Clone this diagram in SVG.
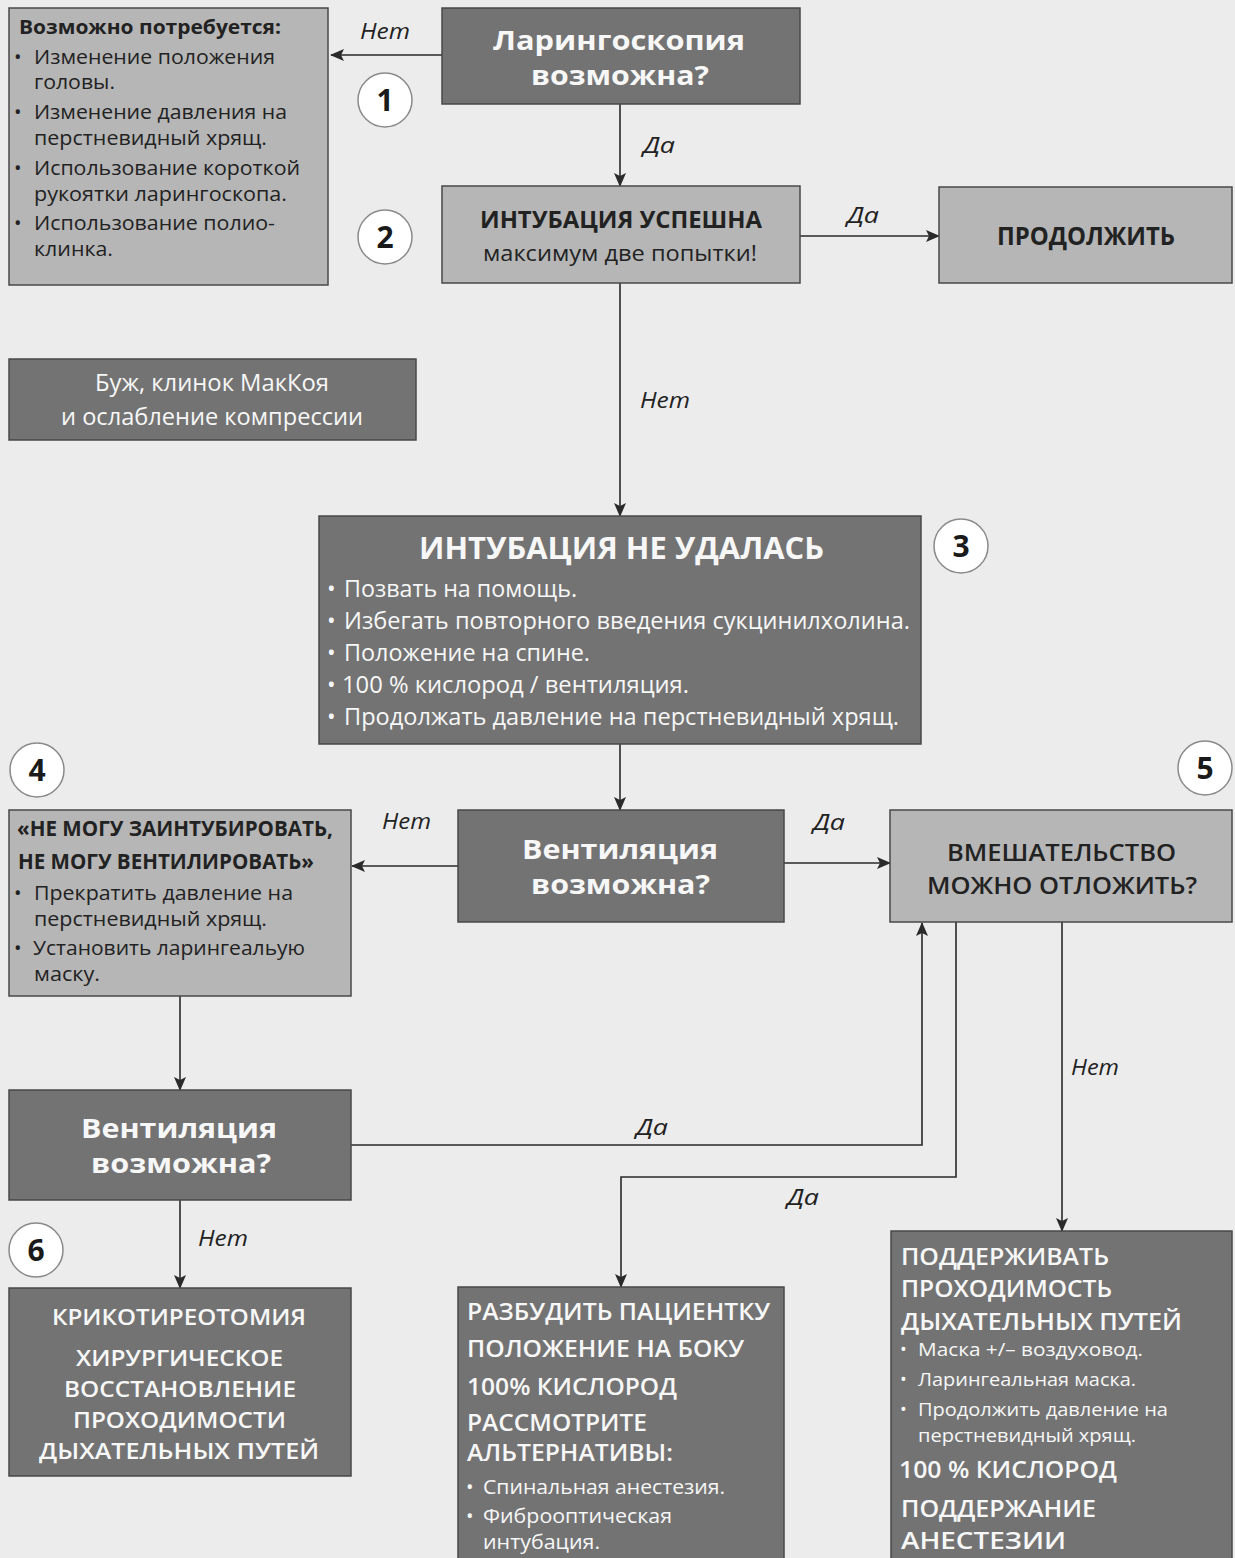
<svg xmlns="http://www.w3.org/2000/svg" width="1235" height="1558" viewBox="0 0 1235 1558">
<defs>
<style>
.bg{fill:#ececec}
.dk{fill:#737373;stroke:#484848;stroke-width:1.5}
.lt{fill:#b6b6b6;stroke:#484848;stroke-width:1.5}
.circ{fill:#ffffff;stroke:#8a8a8a;stroke-width:1.5}
.num{font-family:"Open Sans","Noto Sans",sans-serif;font-weight:700;font-size:30px;fill:#1a1a1a;text-anchor:middle}
text{font-family:"Open Sans","Noto Sans",sans-serif}
.w{fill:#f7f7f7}
.b{fill:#222222}
.bold{font-weight:700}
.semi{font-weight:600}
.lbl{font-style:italic;font-size:22px;fill:#222222}
.conn{fill:none;stroke:#2a2a2a;stroke-width:1.6}
</style>
<marker id="ah" markerUnits="userSpaceOnUse" markerWidth="14" markerHeight="12" refX="13" refY="6" orient="auto">
<path d="M0,0 L14,6 L0,12 L3,6 z" fill="#2a2a2a"/>
</marker>
</defs>
<rect class="bg" x="0" y="0" width="1235" height="1558"/>

<g id="connectors">
<path class="conn" d="M442,55 H331" marker-end="url(#ah)"/>
<path class="conn" d="M620,104 V186" marker-end="url(#ah)"/>
<path class="conn" d="M800,236 H939" marker-end="url(#ah)"/>
<path class="conn" d="M620,283 V516" marker-end="url(#ah)"/>
<path class="conn" d="M620,744 V810" marker-end="url(#ah)"/>
<path class="conn" d="M458,866 H352" marker-end="url(#ah)"/>
<path class="conn" d="M784,863 H890" marker-end="url(#ah)"/>
<path class="conn" d="M180,996 V1090" marker-end="url(#ah)"/>
<path class="conn" d="M351,1145 H922 V923" marker-end="url(#ah)"/>
<path class="conn" d="M956,922 V1177 H621 V1287" marker-end="url(#ah)"/>
<path class="conn" d="M1062,922 V1231" marker-end="url(#ah)"/>
<path class="conn" d="M180,1200 V1288" marker-end="url(#ah)"/>
<text class="lbl" x="360" y="39" textLength="50" lengthAdjust="spacingAndGlyphs">Нет</text>
<text class="lbl" x="643" y="153" textLength="32" lengthAdjust="spacingAndGlyphs">Да</text>
<text class="lbl" x="847" y="223" textLength="32" lengthAdjust="spacingAndGlyphs">Да</text>
<text class="lbl" x="640" y="408" textLength="50" lengthAdjust="spacingAndGlyphs">Нет</text>
<text class="lbl" x="382" y="829" textLength="49" lengthAdjust="spacingAndGlyphs">Нет</text>
<text class="lbl" x="813" y="830" textLength="32" lengthAdjust="spacingAndGlyphs">Да</text>
<text class="lbl" x="636" y="1135" textLength="32" lengthAdjust="spacingAndGlyphs">Да</text>
<text class="lbl" x="787" y="1205" textLength="32" lengthAdjust="spacingAndGlyphs">Да</text>
<text class="lbl" x="1071" y="1075" textLength="48" lengthAdjust="spacingAndGlyphs">Нет</text>
<text class="lbl" x="198" y="1246" textLength="50" lengthAdjust="spacingAndGlyphs">Нет</text>
</g>

<g id="n-maybe">
<rect class="lt" x="9" y="8" width="319" height="277"/>
<text class="b bold" x="19" y="34" font-size="20" textLength="262" lengthAdjust="spacingAndGlyphs">Возможно потребуется:</text>
<g class="b" font-size="20">
<text x="14" y="64">•</text><text x="34" y="64" textLength="241" lengthAdjust="spacingAndGlyphs">Изменение положения</text>
<text x="34" y="89" textLength="81" lengthAdjust="spacingAndGlyphs">головы.</text>
<text x="14" y="119">•</text><text x="34" y="119" textLength="253" lengthAdjust="spacingAndGlyphs">Изменение давления на</text>
<text x="34" y="145" textLength="233" lengthAdjust="spacingAndGlyphs">перстневидный хрящ.</text>
<text x="14" y="175">•</text><text x="34" y="175" textLength="266" lengthAdjust="spacingAndGlyphs">Использование короткой</text>
<text x="34" y="201" textLength="253" lengthAdjust="spacingAndGlyphs">рукоятки ларингоскопа.</text>
<text x="14" y="230">•</text><text x="34" y="230" textLength="241" lengthAdjust="spacingAndGlyphs">Использование полио-</text>
<text x="34" y="256" textLength="79" lengthAdjust="spacingAndGlyphs">клинка.</text>
</g>
</g>

<g id="n-laryngoscopy">
<rect class="dk" x="442" y="8" width="358" height="96"/>
<text class="w bold" x="493" y="50" font-size="26" textLength="252" lengthAdjust="spacingAndGlyphs">Ларингоскопия</text>
<text class="w bold" x="531" y="85" font-size="26" textLength="178" lengthAdjust="spacingAndGlyphs">возможна?</text>
</g>

<g id="n-intubation-ok">
<rect class="lt" x="442" y="186" width="358" height="97"/>
<text class="b bold" x="480" y="228" font-size="23" textLength="282" lengthAdjust="spacingAndGlyphs">ИНТУБАЦИЯ УСПЕШНА</text>
<text class="b" x="483" y="261" font-size="22" textLength="274" lengthAdjust="spacingAndGlyphs">максимум две попытки!</text>
</g>

<g id="n-continue">
<rect class="lt" x="939" y="187" width="293" height="96"/>
<text class="b bold" x="997" y="245" font-size="25" textLength="178" lengthAdjust="spacingAndGlyphs">ПРОДОЛЖИТЬ</text>
</g>

<g id="c1"><circle class="circ" cx="385" cy="100" r="27"/><text class="num" x="385" y="111">1</text></g>
<g id="c2"><circle class="circ" cx="385" cy="237" r="27"/><text class="num" x="385" y="248">2</text></g>

<g id="n-bougie">
<rect class="dk" x="9" y="359" width="407" height="81"/>
<text class="w" x="95" y="391" font-size="23" textLength="234" lengthAdjust="spacingAndGlyphs">Буж, клинок МакКоя</text>
<text class="w" x="61" y="425" font-size="23" textLength="302" lengthAdjust="spacingAndGlyphs">и ослабление компрессии</text>
</g>

<g id="n-failed">
<rect class="dk" x="319" y="516" width="602" height="228"/>
<text class="w bold" x="419" y="559" font-size="30" textLength="405" lengthAdjust="spacingAndGlyphs">ИНТУБАЦИЯ НЕ УДАЛАСЬ</text>
<g class="w" font-size="23">
<text x="327" y="597">•</text><text x="344" y="597" textLength="233" lengthAdjust="spacingAndGlyphs">Позвать на помощь.</text>
<text x="327" y="629">•</text><text x="344" y="629" textLength="566" lengthAdjust="spacingAndGlyphs">Избегать повторного введения сукцинилхолина.</text>
<text x="327" y="661">•</text><text x="344" y="661" textLength="246" lengthAdjust="spacingAndGlyphs">Положение на спине.</text>
<text x="327" y="693">•</text><text x="342" y="693" textLength="347" lengthAdjust="spacingAndGlyphs">100 % кислород / вентиляция.</text>
<text x="327" y="725">•</text><text x="344" y="725" textLength="555" lengthAdjust="spacingAndGlyphs">Продолжать давление на перстневидный хрящ.</text>
</g>
</g>

<g id="c3"><circle class="circ" cx="961" cy="546" r="27"/><text class="num" x="961" y="557">3</text></g>
<g id="c4"><circle class="circ" cx="37" cy="770" r="27"/><text class="num" x="37" y="781">4</text></g>
<g id="c5"><circle class="circ" cx="1205" cy="768" r="27"/><text class="num" x="1205" y="779">5</text></g>

<g id="n-cicv">
<rect class="lt" x="9" y="810" width="342" height="186"/>
<text class="b bold" x="17" y="836" font-size="21" textLength="316" lengthAdjust="spacingAndGlyphs">«НЕ МОГУ ЗАИНТУБИРОВАТЬ,</text>
<text class="b bold" x="18" y="869" font-size="21" textLength="296" lengthAdjust="spacingAndGlyphs">НЕ МОГУ ВЕНТИЛИРОВАТЬ»</text>
<g class="b" font-size="20">
<text x="14" y="900">•</text><text x="34" y="900" textLength="259" lengthAdjust="spacingAndGlyphs">Прекратить давление на</text>
<text x="34" y="926" textLength="233" lengthAdjust="spacingAndGlyphs">перстневидный хрящ.</text>
<text x="14" y="955">•</text><text x="33" y="955" textLength="272" lengthAdjust="spacingAndGlyphs">Установить ларингеальую</text>
<text x="34" y="981" textLength="66" lengthAdjust="spacingAndGlyphs">маску.</text>
</g>
</g>

<g id="n-vent1">
<rect class="dk" x="458" y="810" width="326" height="112"/>
<text class="w bold" x="522" y="859" font-size="26" textLength="196" lengthAdjust="spacingAndGlyphs">Вентиляция</text>
<text class="w bold" x="531" y="894" font-size="26" textLength="179" lengthAdjust="spacingAndGlyphs">возможна?</text>
</g>

<g id="n-delay">
<rect class="lt" x="890" y="810" width="342" height="112"/>
<text class="b semi" x="947" y="861" font-size="23" textLength="229" lengthAdjust="spacingAndGlyphs">ВМЕШАТЕЛЬСТВО</text>
<text class="b semi" x="927" y="894" font-size="23" textLength="270" lengthAdjust="spacingAndGlyphs">МОЖНО ОТЛОЖИТЬ?</text>
</g>

<g id="n-vent2">
<rect class="dk" x="9" y="1090" width="342" height="110"/>
<text class="w bold" x="81" y="1138" font-size="26" textLength="196" lengthAdjust="spacingAndGlyphs">Вентиляция</text>
<text class="w bold" x="91" y="1173" font-size="26" textLength="180" lengthAdjust="spacingAndGlyphs">возможна?</text>
</g>

<g id="c6"><circle class="circ" cx="36" cy="1250" r="27"/><text class="num" x="36" y="1261">6</text></g>

<g id="n-crico">
<rect class="dk" x="9" y="1288" width="342" height="188"/>
<g class="w semi" font-size="22">
<text x="52" y="1325" textLength="254" lengthAdjust="spacingAndGlyphs">КРИКОТИРЕОТОМИЯ</text>
<text x="76" y="1366" textLength="207" lengthAdjust="spacingAndGlyphs">ХИРУРГИЧЕСКОЕ</text>
<text x="64" y="1397" textLength="232" lengthAdjust="spacingAndGlyphs">ВОССТАНОВЛЕНИЕ</text>
<text x="73" y="1428" textLength="213" lengthAdjust="spacingAndGlyphs">ПРОХОДИМОСТИ</text>
<text x="39" y="1459" textLength="280" lengthAdjust="spacingAndGlyphs">ДЫХАТЕЛЬНЫХ ПУТЕЙ</text>
</g>
</g>

<g id="n-wake">
<rect class="dk" x="458" y="1287" width="326" height="280"/>
<g class="w semi" font-size="23">
<text x="467" y="1320" textLength="303" lengthAdjust="spacingAndGlyphs">РАЗБУДИТЬ ПАЦИЕНТКУ</text>
<text x="467" y="1357" textLength="277" lengthAdjust="spacingAndGlyphs">ПОЛОЖЕНИЕ НА БОКУ</text>
<text x="467" y="1395" textLength="210" lengthAdjust="spacingAndGlyphs">100% КИСЛОРОД</text>
<text x="467" y="1431" textLength="180" lengthAdjust="spacingAndGlyphs">РАССМОТРИТЕ</text>
<text x="467" y="1461" textLength="206" lengthAdjust="spacingAndGlyphs">АЛЬТЕРНАТИВЫ:</text>
</g>
<g class="w" font-size="20">
<text x="466" y="1494">•</text><text x="483" y="1494" textLength="242" lengthAdjust="spacingAndGlyphs">Спинальная анестезия.</text>
<text x="466" y="1523">•</text><text x="483" y="1523" textLength="189" lengthAdjust="spacingAndGlyphs">Фиброоптическая</text>
<text x="483" y="1549" textLength="117" lengthAdjust="spacingAndGlyphs">интубация.</text>
</g>
</g>

<g id="n-maintain">
<rect class="dk" x="891" y="1231" width="341" height="336"/>
<g class="w semi" font-size="24">
<text x="901" y="1265" textLength="208" lengthAdjust="spacingAndGlyphs">ПОДДЕРЖИВАТЬ</text>
<text x="901" y="1297" textLength="211" lengthAdjust="spacingAndGlyphs">ПРОХОДИМОСТЬ</text>
<text x="901" y="1330" textLength="281" lengthAdjust="spacingAndGlyphs">ДЫХАТЕЛЬНЫХ ПУТЕЙ</text>
</g>
<g class="w" font-size="18">
<text x="900" y="1356">•</text><text x="918" y="1356" textLength="225" lengthAdjust="spacingAndGlyphs">Маска +/– воздуховод.</text>
<text x="900" y="1386">•</text><text x="918" y="1386" textLength="218" lengthAdjust="spacingAndGlyphs">Ларингеальная маска.</text>
<text x="900" y="1416">•</text><text x="918" y="1416" textLength="250" lengthAdjust="spacingAndGlyphs">Продолжить давление на</text>
<text x="918" y="1442" textLength="218" lengthAdjust="spacingAndGlyphs">перстневидный хрящ.</text>
</g>
<g class="w semi" font-size="24">
<text x="899" y="1478" textLength="218" lengthAdjust="spacingAndGlyphs">100 % КИСЛОРОД</text>
<text x="901" y="1517" textLength="195" lengthAdjust="spacingAndGlyphs">ПОДДЕРЖАНИЕ</text>
<text x="901" y="1549" textLength="165" lengthAdjust="spacingAndGlyphs">АНЕСТЕЗИИ</text>
</g>
</g>
</svg>
